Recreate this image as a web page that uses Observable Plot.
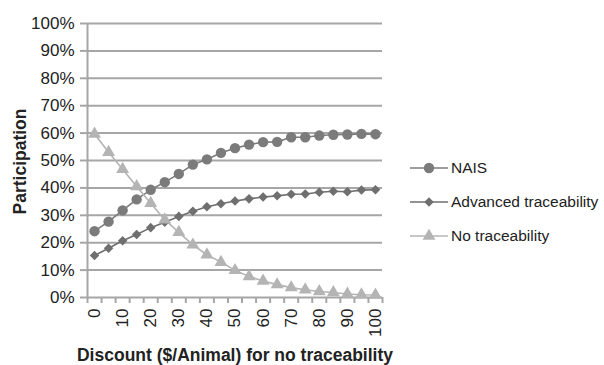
<!DOCTYPE html>
<html>
<head>
<meta charset="utf-8">
<script src="https://cdn.jsdelivr.net/npm/d3@7"></script>
<script src="https://cdn.jsdelivr.net/npm/@observablehq/plot@0.6"></script>
<style>
  html, body { margin: 0; padding: 0; background: #fff; }
  #wrap { position: relative; width: 604px; height: 365px; font-family: "Liberation Sans", Arial, sans-serif; }
  #legend { position: absolute; left: 410px; top: 151px; font-size: 15.5px; color: #222; white-space: nowrap; }
  .item { display: flex; align-items: center; height: 34px; white-space: nowrap; }
  .item svg { margin-right: 3px; flex: none; }
</style>
</head>
<body>
<div id="wrap"><div id="legend"></div></div>
<script>
const discounts = [0,5,10,15,20,25,30,35,40,45,50,55,60,65,70,75,80,85,90,95,100];
const nais = [24.2,27.7,31.8,35.8,39.3,42.1,45.1,48.5,50.4,52.8,54.5,55.8,56.7,56.8,58.5,58.5,59.1,59.4,59.5,59.7,59.6];
const advanced = [15.3,18.0,20.7,23.0,25.5,27.5,29.6,31.5,33.1,34.2,35.2,36.0,36.7,37.1,37.7,37.8,38.4,38.8,38.6,39.2,39.3];
const noTrace = [59.7,53.0,46.8,40.5,34.4,28.4,23.8,19.2,15.6,12.9,9.9,7.7,6.0,4.7,3.6,2.8,2.2,1.8,1.3,1.0,0.9];
const seriesNames = ["NAIS", "Advanced traceability", "No traceability"];
const seriesValues = [nais, advanced, noTrace];
const seriesColors = ["#7b7b7b", "#6f6f6f", "#b4b4b4"];
const seriesSymbols = ["circle", "diamond2", "triangle"];
const seriesSizes = [5.2, 4.3, 4.8];
const yTicks = [0,10,20,30,40,50,60,70,80,90,100];
const xTickLabels = [0,10,20,30,40,50,60,70,80,90,100];
const xBoundaries = d3.range(-2.5, 103, 5);

const rows = [];
seriesNames.forEach((s, i) => discounts.forEach((d, j) => rows.push({series: s, x: d, y: seriesValues[i][j]})));

const font = "Liberation Sans, Arial, sans-serif";
const plot = Plot.plot({
  width: 604,
  height: 365,
  marginLeft: 87,
  marginRight: 222,
  marginTop: 23,
  marginBottom: 68,
  style: { fontFamily: font, fontSize: "17px", color: "#222", background: "transparent" },
  x: { domain: [-2.5, 102.5], axis: null },
  y: { domain: [0, 100], axis: null },
  marks: [
    Plot.ruleY(yTicks, { stroke: "#a6a6a6", strokeWidth: 2 }),
    Plot.ruleX([-2.5], { stroke: "#a6a6a6", strokeWidth: 2 }),
    Plot.axisY({ ticks: yTicks, tickFormat: d => d + "%", tickSize: 7, tickPadding: 6, stroke: "#a6a6a6", strokeWidth: 2, fontSize: 17, label: null }),
    Plot.axisX({ ticks: xBoundaries, tickFormat: () => "", tickSize: 6, stroke: "#a6a6a6", strokeWidth: 2, label: null }),
    Plot.axisX({ ticks: xTickLabels, tickSize: 0, tickPadding: 11, tickRotate: -90, fontSize: 17, label: null }),
    ...seriesNames.map((s, i) => Plot.line(rows.filter(r => r.series === s), { x: "x", y: "y", stroke: seriesColors[i], strokeWidth: 1.6 })),
    ...seriesNames.map((s, i) => Plot.dot(rows.filter(r => r.series === s), { x: "x", y: "y", fill: seriesColors[i], symbol: seriesSymbols[i], r: seriesSizes[i] })),
    Plot.text(["Discount ($/Animal) for no traceability"], { frameAnchor: "bottom", textAnchor: "middle", lineAnchor: "middle", dy: 58, fontWeight: "bold", fontSize: 17.5, fill: "#222" }),
    Plot.text(["Participation"], { frameAnchor: "left", textAnchor: "middle", lineAnchor: "middle", rotate: -90, dx: -67, dy: 1, fontWeight: "bold", fontSize: 17.5, fill: "#222" })
  ]
});
document.getElementById("wrap").prepend(plot);

const legend = document.getElementById("legend");
seriesNames.forEach((s, i) => {
  const item = document.createElement("div");
  item.className = "item";
  const sym = d3.symbol(seriesSymbols[i] === "circle" ? d3.symbolCircle : seriesSymbols[i] === "diamond2" ? d3.symbolDiamond2 : d3.symbolTriangle, seriesSymbols[i] === "circle" ? 85 : seriesSymbols[i] === "diamond2" ? 58 : 70)();
  item.innerHTML = `<svg width="38" height="14"><line x1="0" x2="38" y1="7" y2="7" stroke="${seriesColors[i]}" stroke-width="1.6"/><path transform="translate(19,7)" d="${sym}" fill="${seriesColors[i]}"/></svg><span>${s}</span>`;
  legend.appendChild(item);
});
</script>
</body>
</html>
